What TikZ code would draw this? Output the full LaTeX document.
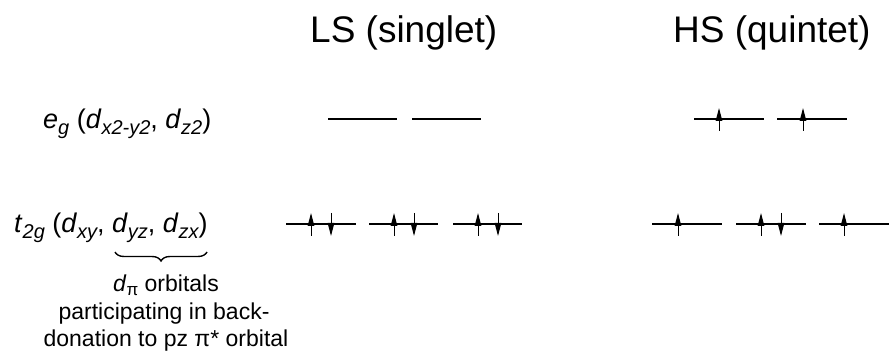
\documentclass[tikz,border=0pt]{standalone}
\usepackage{fontspec}
\setmainfont{Liberation Sans}
\usetikzlibrary{arrows.meta,decorations.pathreplacing}
% italic subscript for the orbital labels
\newcommand\sbx[1]{\raisebox{-0.2em}{\fontsize{20}{20}\selectfont\itshape #1}}
\begin{document}
\begin{tikzpicture}[x=1pt,y=-1pt,
  heading/.style={anchor=base west,inner sep=0pt,font=\fontsize{37}{37}\selectfont},
  orblabel/.style={anchor=base west,inner sep=0pt,font=\fontsize{27}{27}\selectfont},
  note/.style={anchor=base,inner sep=0pt,font=\fontsize{23}{23}\selectfont},
  level/.style={line width=2pt},
  spin/.style={line width=1pt,-{Triangle[length=13pt,width=6.5pt]}},
  bracestyle/.style={line width=1.4pt,decorate,decoration={brace,mirror,amplitude=9pt}}]
\useasboundingbox (0,0) rectangle (891,355);

% column headings
\node[heading] (ls) at (310,43) {LS (singlet)};
\node[heading] (hs) at (673,43) {HS (quintet)};

% orbital set labels
\node[orblabel] (eg) at (43,129) {\textit{e}\sbx{g} (\textit{d}\sbx{x2-y2}, \textit{d}\sbx{z2})};
\node[orblabel] (t2g) at (14,233) {\textit{t}\sbx{2g} (\textit{d}\sbx{xy}, \textit{d}\sbx{yz}, \textit{d}\sbx{zx})};

% brace under d_yz, d_zx
\coordinate (bl) at (115,252);
\coordinate (br) at (207,252);
\draw[bracestyle] (bl) -- (br);

\node[note] (dpi) at (166,291) {\textit{d}\raisebox{-0.2em}{\fontsize{17}{17}\selectfont π} orbitals};
\node[note] (p1) at (164,319) {participating in back-};
\node[note] (p2) at (166,346) {donation to pz π* orbital};

% energy levels
\foreach \a/\b/\y in {328/397/119, 412/481/119, 694/764/119, 777/847/119,
                      286/356/224, 369/438/224, 453/522/224,
                      652/722/224, 736/806/224, 819/889/224}
  \draw[level] (\a,\y) -- (\b,\y);

% spin-up electrons
\foreach \x/\y in {719/119, 803/119, 311/224, 394/224, 478/224, 678/224, 761/224, 844/224}
  \draw[spin] (\x,\y+12) -- (\x,\y-11);
% spin-down electrons
\foreach \x/\y in {331/224, 414/224, 498/224, 781/224}
  \draw[spin] (\x,\y-11) -- (\x,\y+12);
\end{tikzpicture}
\end{document}
